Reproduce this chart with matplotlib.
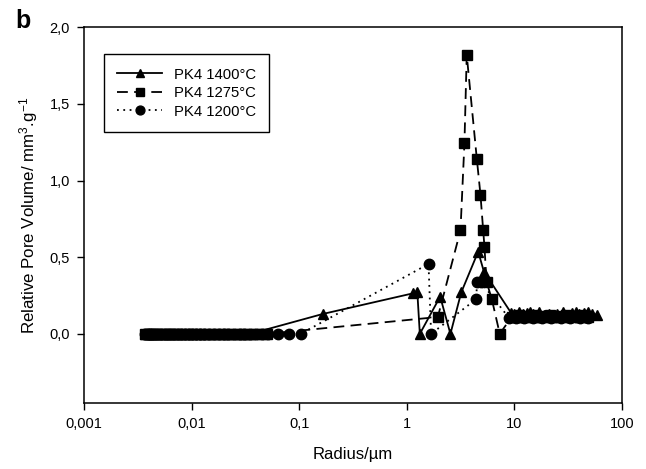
import numpy as np
import matplotlib
matplotlib.use("Agg")
import matplotlib.pyplot as plt

plt.rcParams['font.family'] = ['Liberation Sans', 'DejaVu Sans']
plt.rcParams['mathtext.fontset'] = 'custom'
plt.rcParams['mathtext.rm'] = 'Liberation Sans'
plt.rcParams['mathtext.it'] = 'Liberation Sans:italic'

# PK4 1400 C (triangles, solid)
r_1400 = [0.0037, 0.0039, 0.0041, 0.0043, 0.0045, 0.0048, 0.0051, 0.0054, 0.0057,
          0.0061, 0.0065, 0.0070, 0.0075, 0.0080, 0.0086, 0.0093, 0.010, 0.011,
          0.012, 0.013, 0.014, 0.0155, 0.017, 0.019, 0.021, 0.023, 0.026, 0.029,
          0.032, 0.035, 0.166, 1.15, 1.25, 1.32, 2.04, 2.54, 3.2, 4.6, 5.2,
          9.3, 10.0, 11.0, 12.0, 13.0, 14.0, 15.0, 17.0, 19.0, 21.0, 23.0, 25.0,
          28.0, 31.0, 34.0, 37.0, 40.0, 44.0, 48.0, 53.0, 58.0]
v_1400 = [0.0] * 30 + [0.13, 0.265, 0.276, 0.0, 0.243, 0.0, 0.27, 0.536, 0.406,
                       0.137, 0.13, 0.14, 0.13, 0.135, 0.14, 0.13, 0.14, 0.125, 0.13, 0.12, 0.13,
                       0.14, 0.125, 0.135, 0.14, 0.13, 0.135, 0.14, 0.13, 0.124]

# PK4 1275 C (squares, dashed)
r_1275 = [0.0037, 0.0039, 0.0041, 0.0043, 0.0046, 0.0049, 0.0052, 0.0056, 0.0060,
          0.0064, 0.0069, 0.0074, 0.0080, 0.0087, 0.0094, 0.010, 0.011, 0.012,
          0.013, 0.0145, 0.016, 0.018, 0.020, 0.022, 0.025, 0.028, 0.031, 0.035,
          0.040, 0.045, 0.050, 1.94, 3.15, 3.43, 3.6, 4.47, 4.83, 5.12, 5.26,
          5.5, 6.16, 7.3, 9.4, 10.2, 11.0, 12.0, 13.5, 15.0, 17.0, 19.0, 21.5,
          24.0, 27.0, 30.0, 34.0, 38.0, 43.0, 48.0]
v_1275 = [0.0] * 31 + [0.11, 0.675, 1.247, 1.82, 1.14, 0.908, 0.675, 0.569,
                       0.34, 0.226, 0.0, 0.11, 0.115, 0.12, 0.11, 0.115, 0.12, 0.11, 0.115,
                       0.12, 0.11, 0.115, 0.12, 0.11, 0.115, 0.12, 0.11]

# PK4 1200 C (circles, dotted)
r_1200 = [0.0037, 0.0039, 0.0041, 0.0043, 0.0046, 0.0049, 0.0052, 0.0056, 0.0060,
          0.0064, 0.0069, 0.0074, 0.0080, 0.0087, 0.0094, 0.010, 0.011, 0.012,
          0.013, 0.0145, 0.016, 0.018, 0.020, 0.022, 0.025, 0.028, 0.031, 0.035,
          0.040, 0.045, 0.051, 0.064, 0.080, 0.103, 1.59, 1.68, 4.4, 4.5, 4.85,
          8.9, 9.6, 10.4, 11.3, 12.3, 13.5, 15.0, 16.5, 18.0, 20.0, 22.0, 24.5,
          27.0, 30.0, 33.0, 37.0, 41.0, 45.0, 48.0]
v_1200 = [0.0] * 34 + [0.456, 0.0, 0.226, 0.34, 0.34,
                       0.104, 0.11, 0.105, 0.11, 0.105, 0.11, 0.105, 0.11, 0.105, 0.11,
                       0.105, 0.11, 0.105, 0.11, 0.105, 0.11, 0.105, 0.11, 0.105]

x_ticks = [0.001, 0.01, 0.1, 1, 10, 100]
x_labels = ['0,001', '0,01', '0,1', '1', '10', '100']
y_ticks = [0.0, 0.5, 1.0, 1.5, 2.0]
y_labels = ['0,0', '0,5', '1,0', '1,5', '2,0']

fig = plt.figure(figsize=(6.46, 4.69), dpi=100)
ax = fig.add_axes([0.130, 0.141, 0.833, 0.801])

ax.plot(r_1400, v_1400, color='black', lw=1.3, ls='-', marker='^', ms=7.5,
        label='PK4 1400°C')
ax.plot(r_1275, v_1275, color='black', lw=1.3, ls=(0, (6, 3.5)), marker='s', ms=7,
        label='PK4 1275°C')
ax.plot(r_1200, v_1200, color='black', lw=1.3, ls=(0, (1, 2.5)), marker='o', ms=7.5,
        label='PK4 1200°C')

ax.set_xscale('log')
ax.set_xlim(0.001, 100)
ax.set_ylim(-0.45, 2.0)
ax.set_xticks(x_ticks)
ax.set_xticklabels(x_labels)
ax.xaxis.set_minor_locator(matplotlib.ticker.NullLocator())
ax.set_yticks(y_ticks)
ax.set_yticklabels(y_labels)
ax.tick_params(direction='out', length=5, width=1, labelsize=10.5, pad=5,
               top=False, right=False)

for s in ax.spines.values():
    s.set_linewidth(1.1)
    s.set_color('black')

ax.set_xlabel('Radius/µm', fontsize=12, labelpad=12)
ax.set_ylabel('Relative Pore Volume/ mm$^3$.g$^{-1}$', fontsize=12.2, labelpad=7)

leg = ax.legend(loc='upper left', bbox_to_anchor=(0.037, 0.928), fontsize=10.7,
                frameon=True, fancybox=False, edgecolor='black', framealpha=1,
                handlelength=3.0, borderpad=0.9, labelspacing=0.3, borderaxespad=0,
                markerscale=0.85)
leg.get_frame().set_linewidth(1.0)

fig.text(0.036, 0.955, 'b', fontsize=18, fontweight='bold', ha='center', va='center')

fig.savefig('out.png', dpi=100)
